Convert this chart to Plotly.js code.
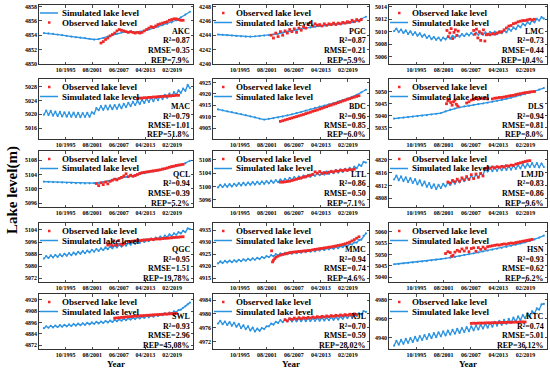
<!DOCTYPE html>
<html><head><meta charset="utf-8">
<script src="https://cdn.plot.ly/plotly-3.0.1.min.js"></script>
<style>html,body{margin:0;padding:0;background:#fff}#chart{width:550px;height:377px}</style>
</head><body><div id="chart"></div>
<script>
// ---------------- DATA ----------------
const tickYears = [1995.75, 2001.583, 2007.417, 2013.25, 2019.083];
const tickText = ['10/1995','08/2001','06/2007','04/2013','02/2019'];
const siteNames = ['AKC','PGC','LMC','MAC','BDC','DLS','QCL','LTL','LMJD','QGC','MMC','HSN','SWL','XJL','KTC'];
const r2Vals = ['0.87','0.87','0.73','0.79','0.96','0.94','0.94','0.86','0.83','0.95','0.94','0.93','0.93','0.70','0.74'];
const rmseVals = ['0.35','0.21','0.44','1.01','0.85','0.81','0.39','0.50','0.86','1.51','0.74','0.62','2.96','0.59','5.01'];
const repVals = ['7.9%','5.9%','10.4%','51.8%','6.0%','8.0%','5.2%','7.1%','9.6%','19.78%','4.6%','6.2%','45.08%','28.02%','36.12%'];
const yRanges = [[4849.95,4858.25],[4239.95,4248.25],[5004.8,5014.3],[5012.9,5030.2],[4900.3,4926.5],[5030.3,5055.3],
  [5095,5110.5],[5093.8,5110.7],[4805.3,4822.8],[5069.5,5108.6],[4913.5,4937.9],[5037.9,5063.8],
  [4868,4926],[4969.8,4985.8],[4928,4986]];
const yTicks = [[4850,4852,4854,4856,4858],[4240,4242,4244,4246,4248],[5006,5008,5010,5012,5014],[5016,5020,5024,5028],
  [4905,4910,4915,4920,4925],[5035,5040,5045,5050],[5096,5100,5104,5108],[5096,5100,5104,5108],[4808,4812,4816,4820],
  [5072,5080,5088,5096,5104],[4915,4920,4925,4930,4935],[5040,5045,5050,5055,5060],[4872,4884,4896,4908,4920],
  [4972,4976,4980,4984],[4940,4960,4980]];

// simulated series, starting 1991.0 (annual step = 1, semiannual = 0.5)
const simStep = [1,1,0.5,0.5,1,1,1,0.5,0.5,0.5,0.5,1,0.5,0.5,0.5];
const akcSim = [4854.3,4854.25,4854.2,4854.1,4854.0,4853.9,4853.8,4853.7,4853.65,4853.6,4853.5,4853.4,4853.45,4853.6,4853.8,4854.0,4854.2,4854.4,4854.5,4854.5,4854.4,4854.5,4854.6,4854.8,4855.0,4855.2,4855.4,4855.6,4855.8,4856.1,4856.5,4856.9,4857.3];
const pgcSim = [4244.1,4244.05,4244.0,4243.95,4243.9,4243.85,4243.8,4243.8,4243.85,4243.9,4243.95,4244.0,4244.1,4244.2,4244.35,4244.5,4244.6,4244.75,4244.9,4245.0,4245.1,4245.2,4245.3,4245.4,4245.5,4245.55,4245.6,4245.65,4245.7,4245.85,4246.0,4246.3,4246.6];
const lmcSim = [5010.1,5010.5,5009.95,5010.35,5009.8,5010.2,5009.65,5010.05,5009.5,5009.9,5009.35,5009.75,5009.2,5009.55,5009.0,5009.35,5008.8,5009.15,5008.7,5009.05,5008.6,5009.05,5008.75,5009.2,5008.9,5009.35,5009.05,5009.5,5009.2,5009.6,5009.3,5009.7,5009.4,5009.8,5009.45,5009.85,5009.5,5009.9,5009.5,5009.9,5009.5,5009.95,5009.55,5010.0,5009.6,5010.1,5009.75,5010.2,5009.9,5010.45,5010.15,5010.7,5010.4,5011.0,5010.7,5011.3,5011.0,5011.55,5011.25,5011.8,5011.5,5012.05,5011.8,5012.35,5012.1];
const macSim = [5019.9,5021.1,5019.8,5021.0,5019.6,5020.8,5019.5,5020.7,5019.4,5020.6,5019.35,5020.55,5019.3,5020.5,5019.25,5020.45,5019.2,5020.4,5019.25,5020.45,5019.3,5020.6,5020.2,5021.8,5021.2,5022.4,5021.3,5022.5,5021.4,5022.6,5021.5,5022.7,5021.6,5022.8,5021.8,5023.0,5022.1,5023.3,5022.4,5023.6,5022.7,5023.9,5023.0,5024.2,5023.3,5024.5,5023.6,5024.8,5023.8,5025.0,5024.1,5025.3,5024.4,5025.6,5024.8,5026.0,5025.2,5026.4,5025.7,5026.9,5026.2,5027.4,5026.8,5028.5,5027.6];
const bdcSim = [4913.2,4912.8,4912.4,4912.0,4911.6,4911.2,4910.7,4910.2,4909.7,4909.2,4908.8,4909.1,4909.4,4909.7,4910.1,4910.6,4911.1,4911.6,4912.1,4912.7,4913.3,4913.9,4914.4,4914.9,4915.4,4916.0,4916.6,4917.2,4917.9,4918.7,4919.6,4920.6,4921.8];
const dlsSim = [5038.8,5039.0,5039.2,5039.4,5039.6,5039.8,5040.0,5040.2,5040.5,5040.8,5041.1,5041.8,5042.5,5043.0,5043.5,5043.9,5044.2,5044.5,5044.8,5045.1,5045.4,5045.8,5046.2,5046.6,5047.0,5047.5,5048.0,5048.5,5049.0,5049.6,5050.2,5050.9,5051.5];
const qclSim = [5102.0,5101.95,5101.9,5101.85,5101.8,5101.7,5101.65,5101.6,5101.55,5101.5,5101.55,5101.6,5101.7,5101.9,5102.2,5102.5,5102.8,5103.1,5103.35,5103.6,5103.85,5104.1,5104.35,5104.6,5104.85,5105.1,5105.4,5105.7,5106.0,5106.3,5106.6,5107.1,5107.8];
const ltlSim = [5099.7,5100.5,5099.8,5100.6,5099.9,5100.7,5100.0,5100.8,5100.2,5101.0,5100.3,5101.1,5100.4,5101.2,5100.5,5101.3,5100.6,5101.4,5100.7,5101.5,5100.8,5101.6,5100.95,5101.75,5101.1,5101.9,5101.3,5102.1,5101.5,5102.3,5101.7,5102.6,5102.0,5102.8,5102.2,5103.0,5102.4,5103.3,5102.7,5103.5,5102.9,5103.8,5103.2,5104.0,5103.4,5104.2,5103.6,5104.5,5103.8,5104.7,5104.0,5104.9,5104.2,5105.1,5104.4,5105.3,5104.7,5105.6,5105.0,5106.0,5105.5,5106.6,5106.2,5107.4,5107.2];
const lmjdSim = [4813.9,4815.1,4813.65,4814.85,4813.4,4814.6,4813.1,4814.3,4812.8,4814.0,4812.4,4813.6,4812.0,4813.2,4811.6,4812.8,4811.2,4812.4,4810.9,4812.2,4811.2,4812.5,4811.7,4812.9,4812.2,4813.4,4812.6,4813.8,4813.0,4814.2,4813.4,4814.6,4813.8,4815.0,4814.2,4815.4,4814.6,4815.8,4815.2,4817.4,4816.4,4817.6,4816.5,4817.7,4816.6,4817.8,4816.8,4818.0,4816.9,4818.1,4817.0,4818.2,4817.2,4818.4,4817.4,4818.6,4817.6,4818.8,4817.8,4819.0,4817.8,4819.0,4817.7,4818.9,4817.8];
const qgcSim = [5085.0,5086.7,5085.4,5087.1,5085.8,5087.4,5086.1,5087.8,5086.5,5088.2,5086.9,5088.6,5087.3,5089.0,5087.7,5089.4,5088.2,5089.9,5088.6,5090.3,5089.1,5090.8,5089.6,5091.3,5090.1,5091.8,5090.7,5092.4,5091.2,5092.9,5091.8,5093.5,5092.4,5094.1,5093.0,5094.7,5093.6,5095.3,5094.2,5095.9,5094.8,5096.5,5095.4,5097.1,5096.0,5097.7,5096.6,5098.3,5097.2,5098.9,5097.9,5099.6,5098.6,5100.3,5099.3,5101.0,5100.0,5101.7,5100.8,5102.5,5101.7,5103.4,5102.6,5105.0,5104.5];
const mmcSim = [4921.2,4922.0,4921.4,4922.2,4921.6,4922.4,4921.7,4922.5,4921.9,4922.7,4922.1,4922.9,4922.3,4923.1,4922.5,4923.3,4922.7,4923.5,4923.0,4923.8,4923.4,4924.2,4923.8,4924.6,4924.2,4925.0,4924.5,4925.3,4924.8,4925.6,4925.0,4925.8,4925.2,4926.0,4925.4,4926.2,4925.6,4926.4,4925.8,4926.6,4926.0,4926.8,4926.2,4927.0,4926.5,4927.3,4926.7,4927.5,4927.0,4927.8,4927.2,4928.0,4927.5,4928.3,4927.9,4928.7,4928.4,4929.2,4929.0,4929.9,4929.8,4930.8,4931.0,4932.6,4933.6];
const hsnSim = [5045.7,5045.9,5046.1,5046.3,5046.5,5046.7,5046.9,5047.1,5047.4,5047.7,5048.0,5048.3,5048.6,5048.9,5049.3,5049.7,5050.1,5050.5,5050.9,5051.3,5051.7,5052.1,5052.5,5052.9,5053.3,5053.8,5054.3,5054.8,5055.3,5055.9,5056.6,5057.4,5058.3];
const swlSim = [4890.0,4892.0,4890.4,4892.4,4890.8,4892.8,4891.1,4893.1,4891.5,4893.5,4891.9,4893.9,4892.3,4894.3,4892.7,4894.7,4893.1,4895.1,4893.5,4895.5,4894.0,4896.0,4894.5,4896.5,4895.0,4897.0,4895.5,4897.5,4896.0,4898.0,4896.6,4898.6,4897.2,4899.2,4897.8,4899.8,4898.4,4900.4,4899.0,4901.0,4899.6,4901.6,4900.2,4902.2,4900.8,4902.8,4901.4,4903.4,4902.0,4904.0,4902.8,4904.8,4903.6,4905.6,4904.5,4906.5,4905.7,4907.7,4907.0,4909.0,4909.5,4911.5,4913.0,4915.0,4917.0];
const xjlSim = [4977.2,4978.0,4977.0,4977.8,4976.8,4977.6,4976.6,4977.4,4976.3,4977.1,4975.9,4976.7,4975.6,4976.4,4975.2,4976.0,4974.9,4975.7,4975.1,4975.9,4975.6,4976.4,4976.4,4977.2,4976.9,4977.7,4977.4,4978.2,4977.6,4978.4,4977.8,4978.6,4977.8,4978.6,4977.85,4978.65,4977.9,4978.7,4977.9,4978.7,4977.95,4978.75,4978.0,4978.8,4978.05,4978.85,4978.1,4978.9,4978.2,4979.0,4978.3,4979.1,4978.4,4979.2,4978.6,4979.4,4978.8,4979.6,4979.1,4979.9,4979.4,4980.2,4979.9,4980.8,4980.6];
const ktcSim = [4931.5,4936.6,4932.5,4937.6,4933.5,4938.6,4934.5,4939.6,4935.5,4940.7,4936.5,4941.7,4937.5,4942.7,4938.5,4943.7,4939.5,4944.7,4940.5,4945.6,4941.4,4946.5,4942.3,4947.4,4943.2,4948.3,4944.1,4949.2,4945.0,4950.1,4945.9,4951.0,4946.8,4951.9,4947.7,4952.8,4948.6,4953.7,4949.5,4954.7,4950.5,4955.7,4951.5,4956.7,4952.5,4957.7,4953.5,4958.7,4954.5,4959.8,4955.8,4961.1,4957.1,4962.4,4958.5,4963.8,4960.5,4965.8,4962.5,4967.8,4965.5,4970.8,4969.5,4975.0,4975.5];

// observed series
const halfYears = (a, b) => { const o = []; for (let t = a; t <= b + 1e-9; t += 0.5) o.push(t); return o; };
const akcObs = [4852.9,4853.1,4853.4,4853.6,4853.9,4854.1,4854.3,4854.6,4854.8,4854.7,4854.6,4854.5,4854.4,4854.5,4854.4,4854.3,4854.4,4854.3,4854.4,4854.6,4854.8,4855.0,4855.2,4855.1,4855.3,4855.5,4855.6,4855.7,4855.8,4855.9,4856.1,4856.2,4856.3,4856.3,4856.2,4856.1,4856.1];
const pgcObs = [4244.0,4243.6,4244.3,4243.8,4244.5,4244.0,4244.6,4244.3,4244.8,4244.5,4244.9,4244.4,4245.0,4244.7,4245.2,4245.0,4245.5,4245.8,4245.3,4245.6,4245.4,4245.5,4245.3,4245.6,4245.4,4245.6,4245.5,4245.7,4245.5,4245.7,4245.6,4245.8,4245.7,4245.9,4245.8,4246.1,4245.9,4246.2,4246.0,4246.2];
const lmcObsYears = [2002.3,2002.6,2002.9,2003.2,2003.5,2003.8,2004.1,2004.4,2004.7,2008.0,2008.3,2008.6,2008.9,2009.2,2009.5,2009.8,2010.1,2010.4,2010.7].concat(halfYears(2011.0, 2021.0));
const lmcObs = [5010.2,5009.2,5009.8,5010.5,5008.9,5009.9,5010.3,5009.4,5010.1,5010.2,5009.6,5010.4,5009.0,5010.0,5008.6,5009.7,5010.3,5008.5,5009.5,5009.6,5009.5,5009.7,5009.6,5009.8,5009.9,5010.0,5010.3,5010.6,5010.9,5011.0,5011.3,5011.4,5011.6,5011.7,5011.8,5011.8,5011.9,5012.0,5011.9,5012.0];
const macObs = [5024.6,5024.7,5024.7,5024.8,5024.8,5024.9,5024.9,5025.0,5025.0,5025.1,5025.1,5025.2,5025.2,5025.3,5025.3,5025.4,5025.4,5025.5,5025.5];
const bdcObs = [4908.0,4908.3,4908.6,4908.9,4909.2,4909.5,4909.8,4910.1,4910.4,4910.7,4911.0,4911.4,4911.7,4912.0,4912.4,4912.7,4913.0,4913.4,4913.7,4914.1,4914.4,4914.8,4915.1,4915.5,4915.8,4916.2,4916.5,4916.9,4917.2,4917.6,4917.9,4918.3,4918.6,4918.9,4919.2];
const dlsObsYears = [2002.2,2002.5,2002.8,2003.1,2003.4,2003.7,2004.0,2004.3,2004.6].concat(halfYears(2006.5, 2011.0), halfYears(2012.0, 2021.0));
const dlsObs = [5045.0,5046.2,5046.8,5045.5,5044.4,5045.8,5046.5,5044.8,5044.0,5045.3,5045.8,5046.5,5046.8,5047.2,5046.9,5047.3,5047.1,5047.4,5047.0,5047.0,5047.3,5047.4,5047.6,5047.6,5047.8,5048.0,5048.2,5048.4,5048.5,5048.8,5049.0,5049.2,5049.4,5049.6,5049.7,5049.9,5050.0,5050.1];
const qclObs = [5101.5,5100.9,5101.7,5101.2,5101.9,5101.4,5102.1,5102.4,5102.7,5102.5,5102.9,5103.2,5103.6,5104.2,5103.4,5103.8,5103.5,5103.7,5104.0,5104.3,5104.5,5104.6,5104.7,5104.8,5104.9,5105.0,5105.1,5105.2,5105.3,5105.5,5105.6,5105.8,5106.0,5106.2,5106.3,5106.5,5106.6,5106.7,5106.8];
const ltlObs = [5101.3,5101.3,5101.4,5101.5,5101.6,5101.8,5102.0,5102.2,5102.4,5102.6,5102.8,5103.0,5103.2,5103.4,5103.6,5104.4,5104.0,5104.5,5103.9,5104.2,5104.0,5104.3,5104.5,5104.4,5104.7,5104.6,5104.9,5104.8,5105.0,5104.9,5105.1,5105.0,5105.2];
const lmjdObs = [4813.1,4812.8,4813.6,4813.2,4814.0,4813.4,4814.4,4813.8,4814.8,4814.0,4815.4,4814.2,4815.6,4814.6,4815.8,4815.0,4817.3,4817.6,4817.4,4817.8,4817.5,4817.9,4817.7,4818.0,4817.8,4818.2,4818.1,4818.4,4818.3,4818.7,4818.9,4819.1,4819.3,4819.5,4819.7,4819.8];
const qgcObsYears = [2005.0,2005.5,2006.0,2006.3,2006.7,2007.0,2007.4,2007.8,2008.2,2008.6].concat(halfYears(2009.5, 2021.5));
const qgcObs = [5094.0,5094.5,5093.6,5096.8,5094.3,5093.8,5097.0,5094.6,5094.0,5095.0,5096.2,5096.4,5096.6,5096.8,5097.0,5096.9,5097.2,5097.4,5097.3,5097.6,5097.8,5097.7,5098.0,5098.1,5098.0,5098.3,5098.4,5098.5,5098.7,5098.8,5099.0,5099.1,5099.2,5099.4,5099.5];
const mmcObsYears = [2002.6,2002.8,2003.0,2003.3,2003.6,2004.0].concat(halfYears(2004.5, 2021.5));
const mmcObs = [4926.4,4921.8,4922.5,4923.2,4923.8,4924.2,4924.6,4924.9,4925.1,4925.4,4925.6,4925.8,4925.9,4926.0,4926.1,4926.2,4926.3,4926.4,4926.5,4926.6,4926.8,4927.0,4927.1,4927.3,4927.4,4927.6,4927.7,4927.9,4928.0,4928.2,4928.4,4928.6,4928.8,4929.0,4929.3,4929.6,4930.0,4930.5,4931.0,4931.6,4932.2];
const hsnObsYears = [2002.0,2002.5,2003.0,2003.3,2003.6].concat(halfYears(2004.0, 2020.5));
const hsnObs = [5050.4,5051.2,5050.8,5049.2,5049.6,5051.0,5051.8,5051.3,5052.4,5051.5,5052.8,5051.2,5052.6,5052.9,5051.4,5053.0,5052.2,5053.2,5052.5,5053.4,5053.6,5053.8,5054.0,5054.2,5054.1,5054.4,5054.6,5054.5,5054.8,5055.0,5054.9,5055.2,5055.4,5055.6,5055.8,5056.0,5056.2,5056.4,5056.6];
const swlObs = [4900.5,4900.8,4901.0,4901.3,4901.5,4901.8,4902.0,4902.2,4902.4,4902.6,4902.8,4903.0,4903.1,4903.3,4903.5,4903.6,4903.8,4904.0,4904.1,4904.3,4904.4,4904.6,4904.8,4904.9,4905.1,4905.2,4905.4,4905.5];
const xjlObs = [4978.3,4978.0,4978.6,4978.4,4978.8,4978.5,4978.9,4978.6,4978.9,4978.7,4979.0,4978.8,4979.1,4978.9,4979.2,4979.0,4979.3,4979.1,4979.4,4979.2,4979.5,4979.3,4979.6,4979.4,4979.7,4979.5,4979.8,4979.6,4979.9,4979.7,4980.0,4979.8];
const ktcObs = [4955.0,4955.2,4955.1,4955.3,4955.4,4955.3,4955.5,4955.6,4955.5,4955.7,4955.8,4955.7,4955.9,4956.0,4955.9,4956.1,4956.2,4956.1,4956.3,4956.4,4956.3,4956.5,4956.6,4956.5];

const simSeries = [akcSim,pgcSim,lmcSim,macSim,bdcSim,dlsSim,qclSim,ltlSim,lmjdSim,qgcSim,mmcSim,hsnSim,swlSim,xjlSim,ktcSim];
const obsSeries = [akcObs,pgcObs,lmcObs,macObs,bdcObs,dlsObs,qclObs,ltlObs,lmjdObs,qgcObs,mmcObs,hsnObs,swlObs,xjlObs,ktcObs];
const obsStart = [2003.5,2002.5,null,2011.5,2004.5,null,2002.5,2004.5,2002.5,null,null,null,2006.5,2005.5,2007.5];
const obsYearsList = [null,null,lmcObsYears,null,null,dlsObsYears,null,null,null,qgcObsYears,mmcObsYears,hsnObsYears,null,null,null];

// ---------------- LAYOUT ----------------
const W = 550, H = 377;
const FONT = '"Liberation Serif", "Times New Roman", serif';
const BLUE = '#2A93E2', RED = '#F02828';
const colPx = [[39,193],[213,369],[389,547]];
const rowPx = [[5,64],[79,139],[151,207],[223,282],[294,349]];
const xRange = [1989.92, 2023.67];
const px = p => p / W, py = p => 1 - p / H;

const traces = [], shapes = [], annotations = [];
const layout = {width:W, height:H, margin:{l:0,r:0,t:0,b:0}, showlegend:false,
  paper_bgcolor:'#fff', plot_bgcolor:'#fff', font:{family:FONT, color:'#000', size:9}};
const tf = (s) => ({family:FONT, size:s, color:'#000', weight:'bold'});
const axisCommon = {ticks:'inside', ticklen:2.5, tickwidth:0.7, tickcolor:'#000', showline:true,
  linecolor:'#000', linewidth:0.8, mirror:'ticks', showgrid:false, zeroline:false, fixedrange:true, tickfont:tf(6)};

for (let i = 0; i < 15; i++) {
  const r = Math.floor(i / 3), c = i % 3;
  const [L, R] = colPx[c], [T, B] = rowPx[r];
  const n = i + 1, sfx = n === 1 ? '' : String(n);
  layout['xaxis' + sfx] = Object.assign({}, axisCommon, {domain:[L / W, R / W], range:xRange, anchor:'y' + sfx,
    tickmode:'array', tickvals:tickYears, ticktext:tickText});
  layout['yaxis' + sfx] = Object.assign({}, axisCommon, {domain:[1 - B / H, 1 - T / H], range:yRanges[i], anchor:'x' + sfx,
    tickmode:'array', tickvals:yTicks[i]});

  const sim = simSeries[i];
  const simX = sim.map((_, k) => 1991 + k * simStep[i]);
  traces.push({type:'scatter', mode:'lines+markers', x:simX, y:sim, xaxis:'x' + sfx, yaxis:'y' + sfx,
    line:{color:BLUE, width:1.3}, marker:{color:BLUE, size:2.2}, hoverinfo:'skip'});
  const obs = obsSeries[i];
  const obsX = obsYearsList[i] ? obsYearsList[i] : obs.map((_, k) => obsStart[i] + k * 0.5);
  const m = Math.min(obs.length, obsX.length);
  traces.push({type:'scatter', mode:'markers', x:obsX.slice(0, m), y:obs.slice(0, m), xaxis:'x' + sfx, yaxis:'y' + sfx,
    marker:{color:RED, size:2.8, symbol:'square'}, hoverinfo:'skip'});

  // legend (drawn manually, compact)
  const rows = i === 0 ? ['sim', 'obs'] : ['obs', 'sim'];
  rows.forEach((kind, k) => {
    const yy = T + 8 + k * 9.5;
    if (kind === 'sim') {
      shapes.push({type:'line', xref:'paper', yref:'paper', x0:px(L + 1), x1:px(L + 19), y0:py(yy), y1:py(yy),
        line:{color:BLUE, width:1.5}});
    } else {
      shapes.push({type:'rect', xref:'paper', yref:'paper', x0:px(L + 9), x1:px(L + 11.5), y0:py(yy - 1.25), y1:py(yy + 1.25),
        fillcolor:RED, line:{width:0}});
    }
    annotations.push({xref:'paper', yref:'paper', x:px(L + 21), y:py(yy), xanchor:'left', yanchor:'middle',
      text:kind === 'sim' ? 'Simulated lake level' : 'Observed lake level', showarrow:false, font:tf(9)});
  });

  // stats
  const stats = [siteNames[i], 'R\u00B2=' + r2Vals[i], 'RMSE=' + rmseVals[i], 'REP=' + repVals[i]];
  const offs = [32.5, 23, 13.5, 4];
  stats.forEach((t, k) => {
    annotations.push({xref:'paper', yref:'paper', x:px(R - 1.5), y:py(B - offs[k]), xanchor:'right', yanchor:'middle',
      text:t, showarrow:false, font:tf(8)});
  });
}

// axis titles
colPx.forEach(([L, R]) => annotations.push({xref:'paper', yref:'paper', x:px((L + R) / 2), y:py(364),
  xanchor:'center', yanchor:'middle', text:'Year', showarrow:false, font:tf(9)}));
annotations.push({xref:'paper', yref:'paper', x:px(12), y:py(190), xanchor:'center', yanchor:'middle',
  text:'Lake level(m)', textangle:-90, showarrow:false, font:tf(15)});

layout.shapes = shapes;
layout.annotations = annotations;
Plotly.newPlot('chart', traces, layout, {staticPlot:true, displayModeBar:false});
</script></body></html>
